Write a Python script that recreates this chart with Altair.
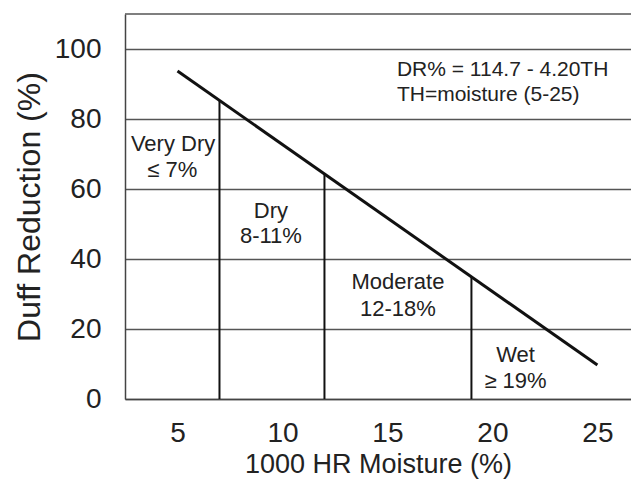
import altair as alt
import pandas as pd

# Regression line endpoints
line_x = [5, 25]
line_y = [93.7, 9.7]

# Class boundary verticals
rule_x = [7, 12, 19]
rule_top = [85.3, 64.3, 34.9]

# Category labels
label_text = ["Very Dry", "\u2264 7%", "Dry", "8-11%", "Moderate", "12-18%", "Wet", "\u2265 19%"]
label_x = [4.79, 4.75, 9.45, 9.45, 15.5, 15.5, 21.1, 21.1]
label_y = [73.0, 65.3, 53.8, 46.5, 33.5, 25.8, 12.7, 5.2]

# Equation text
eq_text = ["DR% = 114.7 - 4.20TH", "TH=moisture (5-25)"]
eq_x = [15.45, 15.45]
eq_y = [94.1, 86.9]

x_ticks = [5, 10, 15, 20, 25]
y_ticks = [0, 20, 40, 60, 80, 100]

X_DOM = [2.5, 26.6]
Y_DOM = [0, 110]
FONT = "Liberation Sans"

xs = alt.Scale(domain=X_DOM, nice=False, zero=False)
ys = alt.Scale(domain=Y_DOM, nice=False)

line_df = pd.DataFrame({"x": line_x, "y": line_y})
rule_df = pd.DataFrame({"x": rule_x, "y0": [0] * len(rule_x), "top": rule_top})
lab_df = pd.DataFrame({"t": label_text, "x": label_x, "y": label_y})
eq_df = pd.DataFrame({"t": eq_text, "x": eq_x, "y": eq_y})
top_df = pd.DataFrame({"y": [Y_DOM[1]]})

base_axes = alt.Chart(line_df).mark_line(strokeWidth=0).encode(
    x=alt.X("x:Q", scale=xs,
            axis=alt.Axis(values=x_ticks, title="1000 HR Moisture (%)", grid=False,
                          domain=True, domainColor="#444", domainWidth=1.5,
                          ticks=False, labelPadding=20, labelFontSize=28,
                          labelColor="#222", labelFont=FONT,
                          titleFont=FONT, titleFontSize=27, titleFontWeight="normal",
                          titleColor="#222", titlePadding=4)),
    y=alt.Y("y:Q", scale=ys,
            axis=alt.Axis(values=y_ticks, title="Duff Reduction (%)", grid=True,
                          gridColor="#555", gridWidth=1.5,
                          domain=True, domainColor="#444", domainWidth=1.5,
                          ticks=False, labelPadding=24, labelFontSize=28,
                          labelColor="#222", labelFont=FONT,
                          titleFont=FONT, titleFontSize=32, titleFontWeight="normal",
                          titleColor="#222", titlePadding=8)),
)

top_rule = alt.Chart(top_df).mark_rule(color="#555", strokeWidth=1.5).encode(
    y=alt.Y("y:Q", scale=ys)
)

main_line = alt.Chart(line_df).mark_line(color="#111", strokeWidth=3).encode(
    x=alt.X("x:Q", scale=xs), y=alt.Y("y:Q", scale=ys)
)

rules = alt.Chart(rule_df).mark_rule(color="#111", strokeWidth=2).encode(
    x=alt.X("x:Q", scale=xs), y=alt.Y("y0:Q", scale=ys), y2="top:Q"
)

labels = alt.Chart(lab_df).mark_text(font=FONT, fontSize=22, color="#222",
                                     align="center", baseline="middle").encode(
    x=alt.X("x:Q", scale=xs), y=alt.Y("y:Q", scale=ys), text="t:N"
)

eq = alt.Chart(eq_df).mark_text(font=FONT, fontSize=21, color="#222",
                                 align="left", baseline="middle").encode(
    x=alt.X("x:Q", scale=xs), y=alt.Y("y:Q", scale=ys), text="t:N"
)

chart = alt.layer(base_axes, top_rule, rules, main_line, labels, eq).properties(
    width=506, height=385,
    autosize=alt.AutoSizeParams(type="none"),
    padding={"left": 117, "top": 6, "right": 0, "bottom": 88},
    background="white",
).configure_view(stroke=None)

chart.save("out.html", embed_options={"renderer": "svg", "actions": False})
